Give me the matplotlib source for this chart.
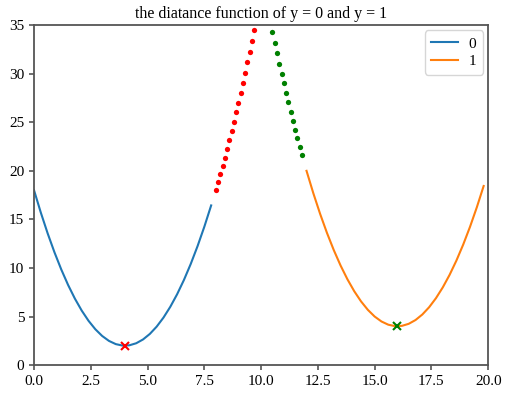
import matplotlib
matplotlib.use("Agg")
import matplotlib.pyplot as plt

plt.rcParams['font.family'] = ['Liberation Serif', 'DejaVu Serif']

# curve for label 0
x0 = [0.0, 0.3, 0.6, 0.9, 1.2, 1.5, 1.8, 2.1, 2.4, 2.7, 3.0, 3.3, 3.6, 3.9, 4.2,
      4.5, 4.8, 5.1, 5.4, 5.7, 6.0, 6.3, 6.6, 6.9, 7.2, 7.5, 7.8]
y0 = [18.0, 15.69, 13.56, 11.61, 9.84, 8.25, 6.84, 5.61, 4.56, 3.69, 3.0, 2.49, 2.16,
      2.01, 2.04, 2.25, 2.64, 3.21, 3.96, 4.89, 6.0, 7.29, 8.76, 10.41, 12.24, 14.25, 16.44]
# curve for label 1
x1 = [12.0, 12.3, 12.6, 12.9, 13.2, 13.5, 13.8, 14.1, 14.4, 14.7, 15.0, 15.3, 15.6,
      15.9, 16.2, 16.5, 16.8, 17.1, 17.4, 17.7, 18.0, 18.3, 18.6, 18.9, 19.2, 19.5, 19.8]
y1 = [20.0, 17.69, 15.56, 13.61, 11.84, 10.25, 8.84, 7.61, 6.56, 5.69, 5.0, 4.49, 4.16,
      4.01, 4.04, 4.25, 4.64, 5.21, 5.96, 6.89, 8.0, 9.29, 10.76, 12.41, 14.24, 16.25, 18.44]
# red dotted continuation
xr = [8.0, 8.1, 8.2, 8.3, 8.4, 8.5, 8.6, 8.7, 8.8, 8.9, 9.0, 9.1, 9.2, 9.3, 9.4, 9.5, 9.6, 9.7]
yr = [18.0, 18.81, 19.64, 20.49, 21.36, 22.25, 23.16, 24.09, 25.04, 26.01, 27.0, 28.01,
      29.04, 30.09, 31.16, 32.25, 33.36, 34.49]
# green dotted continuation
xg = [10.5, 10.6, 10.7, 10.8, 10.9, 11.0, 11.1, 11.2, 11.3, 11.4, 11.5, 11.6, 11.7, 11.8]
yg = [34.25, 33.16, 32.09, 31.04, 30.01, 29.0, 28.01, 27.04, 26.09, 25.16, 24.25, 23.36,
      22.49, 21.64]
# minima
min0 = (4.0, 2.0)
min1 = (16.0, 4.0)

fig = plt.figure(figsize=(5.08, 3.93), dpi=100)
ax = fig.add_axes([0.067, 0.071, 0.894, 0.865])

ax.plot(x0, y0, color='#1f77b4', lw=1.5, label='0')
ax.plot(x1, y1, color='#ff7f0e', lw=1.5, label='1')
ax.plot(xr, yr, 'o', color='red', ms=3.8, mew=0)
ax.plot(xg, yg, 'o', color='green', ms=3.8, mew=0)
ax.plot([min0[0]], [min0[1]], 'x', color='red', ms=6, mew=1.5)
ax.plot([min1[0]], [min1[1]], 'x', color='green', ms=6, mew=1.5)

ax.set_xlim(0, 20)
ax.set_ylim(0, 35)
ax.set_title('the diatance function of y = 0 and y = 1', fontsize=11.5, pad=5)
ax.tick_params(labelsize=11, color='#555555', width=1.2)
for s in ax.spines.values():
    s.set_color('#555555')
    s.set_linewidth(1.3)
ax.legend(loc='upper right', fontsize=11, handlelength=1.75, borderaxespad=0.35,
          labelspacing=0.25, borderpad=0.42, handletextpad=0.7)

fig.savefig('out.png', dpi=100)
